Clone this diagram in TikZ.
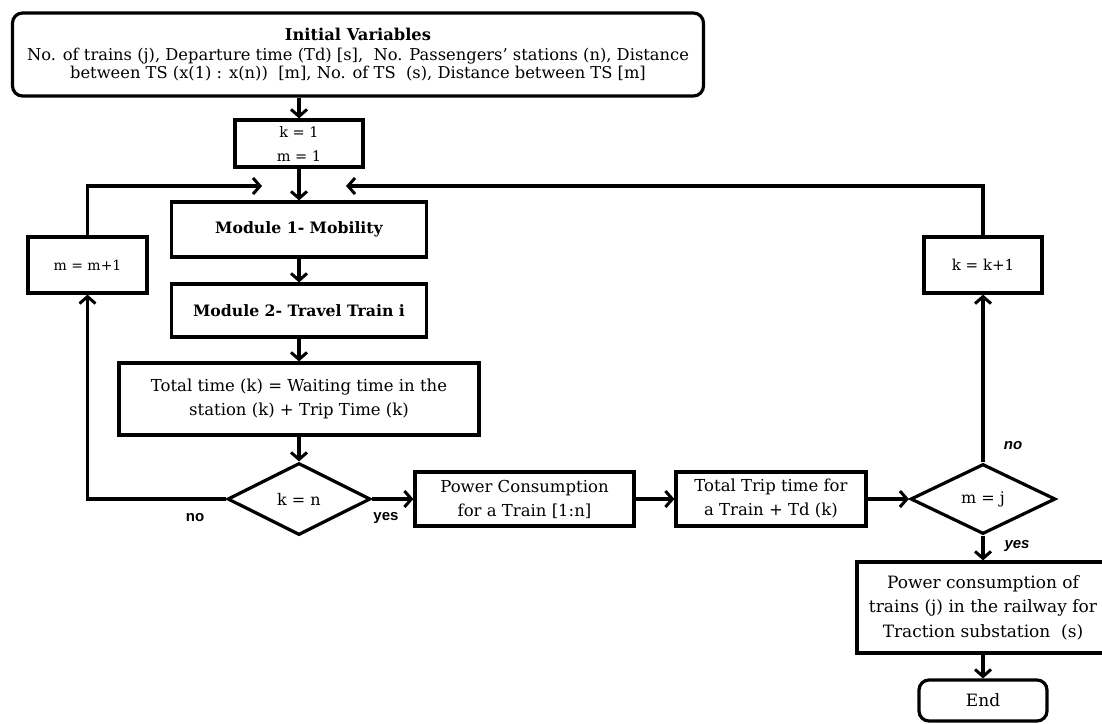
\documentclass[tikz,border=0pt]{standalone}
\usepackage{fontspec}
\setmainfont{DejaVu Serif}
\newfontfamily\lblfont{Liberation Sans}
\usetikzlibrary{shapes.geometric,arrows.meta}
\begin{document}
\begin{tikzpicture}[x=1pt,y=-1pt,
  box/.style={draw,line width=3.2pt,align=center,inner sep=0pt,font=\fontsize{16.5}{24}\selectfont},
  rbox/.style={box,rounded corners=10pt},
  dec/.style={draw,diamond,line width=3.2pt,inner sep=0pt,font=\fontsize{16}{24}\selectfont},
  arr/.style={line width=3.4pt,-{Straight Barb[length=7pt,width=16pt,line width=3pt]}},
  lbl/.style={font=\lblfont\bfseries\fontsize{15}{17}\selectfont},
  lbli/.style={font=\lblfont\bfseries\itshape\fontsize{15}{17}\selectfont}]
\clip (0,0) rectangle (1102,723);
\fill[white] (0,0) rectangle (1102,723);
% nodes
\node[rbox,minimum width=691pt,minimum height=83pt,font=\fontsize{16.3}{18.5}\selectfont] (init) at (358,54.5)
  {\textbf{Initial Variables}\\[1.5pt]No. of trains (j), Departure time (Td) [s],\ \ No. Passengers’ stations (n), Distance\\between TS (x(1) : x(n))\ \ [m], No. of TS\ \ (s), Distance between TS [m]};
\node[box,minimum width=128pt,minimum height=47pt,font=\fontsize{14.5}{24}\selectfont] (k1) at (299,143.5) {k = 1\\m = 1};
\node[box,minimum width=255pt,minimum height=55pt,font=\bfseries\fontsize{15.7}{24}\selectfont] (mod1) at (299,229.5) {Module 1- Mobility};
\node[box,minimum width=255pt,minimum height=53pt,font=\bfseries\fontsize{15.7}{24}\selectfont] (mod2) at (299,310.5) {Module 2- Travel Train i};
\node[box,minimum width=360pt,minimum height=72pt] (tot) at (299,399) {Total time (k) = Waiting time in the\\station (k) + Trip Time (k)};
\node[dec,minimum width=143pt,minimum height=72pt] (dkn) at (299,499) {k = n};
\node[box,minimum width=119pt,minimum height=56pt,font=\fontsize{14}{24}\selectfont] (mm1) at (87.5,265) {m = m+1};
\node[box,minimum width=118pt,minimum height=56pt,font=\fontsize{15}{24}\selectfont] (kk1) at (983,265) {k = k+1};
\node[box,minimum width=219pt,minimum height=54pt] (pc) at (524.5,499) {Power Consumption\\for a Train [1:n]};
\node[box,minimum width=190pt,minimum height=54pt] (ttt) at (771,499) {Total Trip time for\\a Train + Td (k)};
\node[dec,minimum width=145pt,minimum height=70pt] (dmj) at (983,499) {m = j};
\node[box,minimum width=252pt,minimum height=91pt,font=\fontsize{17}{24.5}\selectfont] (fin) at (983,607.5) {Power consumption of\\trains (j) in the railway for\\Traction substation\ \ (s)};
\node[rbox,minimum width=128pt,minimum height=41pt,font=\fontsize{17}{24}\selectfont] (end) at (983,700.5) {End};
\coordinate (jl) at (262,186);
\coordinate (jr) at (346,186);
% connectors
\draw[arr] (init.south -| k1.north) -- (k1.north);
\draw[arr] (k1.south) -- (k1.south |- mod1.north);
\draw[arr] (mod1.south) -- (mod1.south |- mod2.north);
\draw[arr] (mod2.south) -- (mod2.south |- tot.north);
\draw[arr] (tot.south) -- (tot.south |- dkn.north);
\draw[arr] (dkn.west) -| (mm1.south);
\draw[arr] (mm1.north) |- (jl);
\draw[arr] (dkn.east) -- (pc.west);
\draw[arr] (pc.east) -- (ttt.west);
\draw[arr] (ttt.east) -- (dmj.west);
\draw[arr] (dmj.north) -- (kk1.south);
\draw[arr] (kk1.north) |- (jr);
\draw[arr] (dmj.south) -- (fin.north);
\draw[arr] (fin.south) -- (end.north);
% labels
\node[lbl] (no1) at (195,518) {no};
\node[lbl] (yes1) at (386,518) {yes};
\node[lbli] (no2) at (1013,446) {no};
\node[lbli] (yes2) at (1017,546) {yes};
\end{tikzpicture}
\end{document}
